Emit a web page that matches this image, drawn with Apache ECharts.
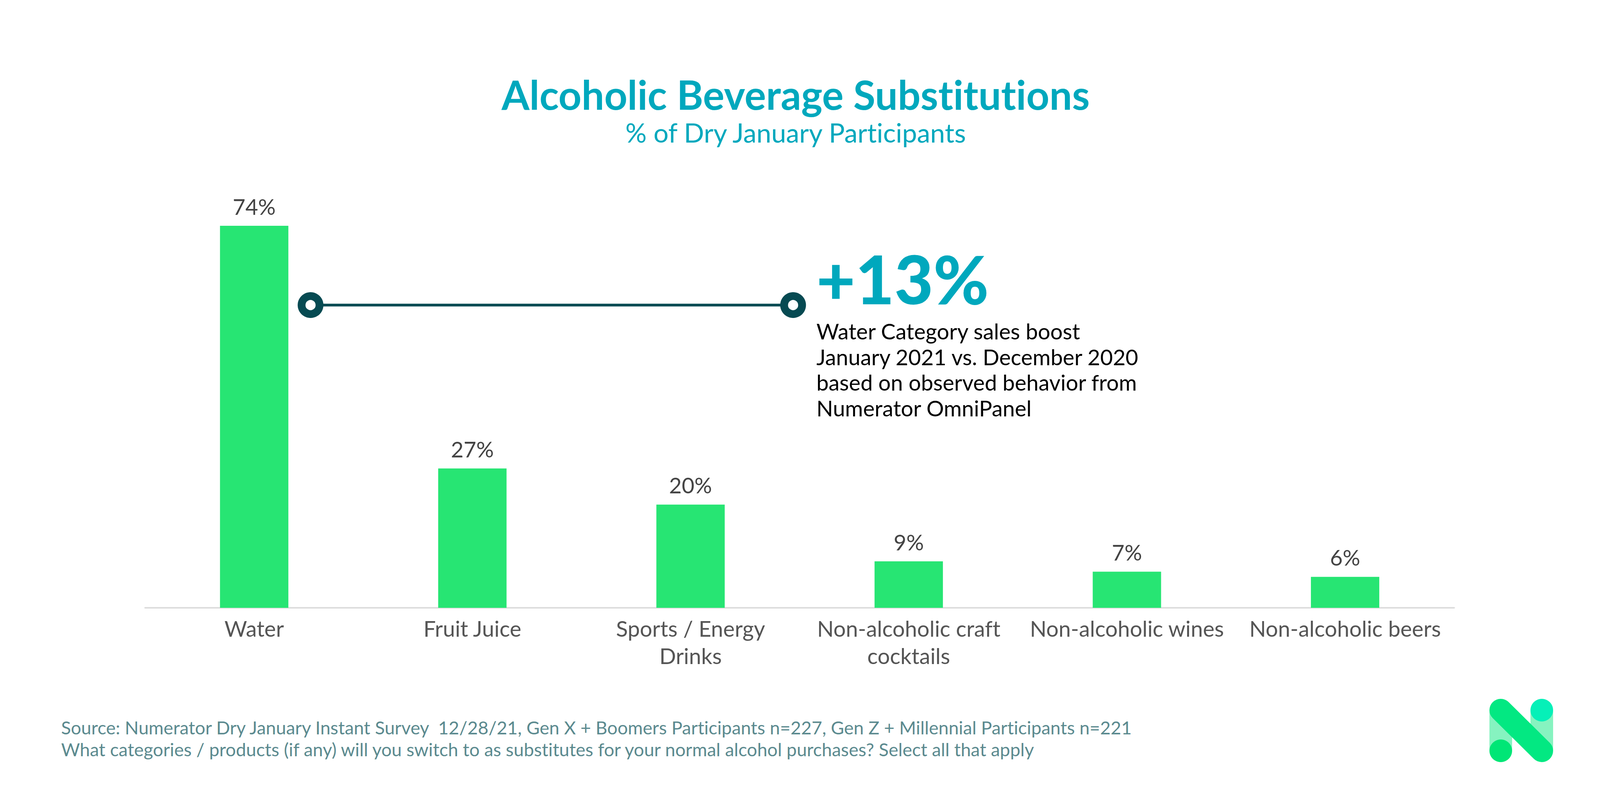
<!DOCTYPE html>
<html>
<head>
<meta charset="utf-8">
<style>
html,body{margin:0;padding:0;background:#fff;overflow:hidden}
#main{width:100vw;height:100vh}
#main text{font-variant-ligatures:none !important}
</style>
<script src="https://cdn.jsdelivr.net/npm/echarts@6/dist/echarts.min.js"></script>
</head>
<body>
<div id="main"></div>
<script>
var categories = ['Water', 'Fruit Juice', 'Sports / Energy\nDrinks', 'Non-alcoholic craft\ncocktails', 'Non-alcoholic wines', 'Non-alcoholic beers'];
var values = [74, 27, 20, 9, 7, 6];
var titleText = 'Alcoholic Beverage Substitutions';
var subtitleText = '% of Dry January Participants';
var calloutValue = '+13%';
var calloutLines = ['Water Category sales boost', 'January 2021 vs. December 2020', 'based on observed behavior from', 'Numerator OmniPanel'];
var sourceLines = ['Source: Numerator Dry January Instant Survey  12/28/21, Gen X + Boomers Participants n=227, Gen Z + Millennial Participants n=221', 'What categories / products (if any) will you switch to as substitutes for your normal alcohol purchases? Select all that apply'];

var font = 'Lato';
var teal = '#00a8bd';
var dark = '#064a52';

var myChart = echarts.init(document.getElementById('main'), null, {renderer: 'svg'});
// the window can come out narrower than the 4400 the reference was measured at
var sx = myChart.getWidth() / 4400;
function X(px) { return px * sx; }
var logoX = X(4183.5);

myChart.setOption({
  animation: false,
  backgroundColor: '#ffffff',
  grid: {left: X(399), top: 578, width: X(3600), height: 978},
  xAxis: {
    type: 'category',
    data: categories,
    axisLine: {lineStyle: {color: '#dddddd', width: 4}},
    axisTick: {show: false},
    axisLabel: {color: '#555555', fontFamily: font, fontSize: 56, lineHeight: 70, margin: 17, interval: 0}
  },
  yAxis: {type: 'value', min: 0, max: 74, show: false, splitLine: {show: false}},
  series: [{
    type: 'bar',
    data: values,
    barWidth: X(188),
    itemStyle: {color: '#27e573'},
    label: {
      show: true,
      position: 'top',
      distance: 22,
      formatter: '{c}%',
      color: '#444444',
      fontFamily: font,
      fontSize: 56
    }
  }],
  graphic: [
    {type: 'text', x: X(2188), y: 241, style: {text: titleText, font: 'bold 103px ' + font, fill: teal, lineHeight: 100, textAlign: 'center', textVerticalAlign: 'middle'}},
    {type: 'text', x: X(2188), y: 338, style: {text: subtitleText, font: '68px ' + font, fill: teal, lineHeight: 70, textAlign: 'center', textVerticalAlign: 'middle'}},
    {type: 'line', shape: {x1: X(854), y1: 781, x2: X(2181), y2: 781}, style: {stroke: dark, lineWidth: 7}},
    {type: 'circle', shape: {cx: X(854), cy: 781, r: 23}, style: {fill: '#ffffff', stroke: dark, lineWidth: 20}},
    {type: 'circle', shape: {cx: X(2181), cy: 781, r: 23}, style: {fill: '#ffffff', stroke: dark, lineWidth: 20}},
    {type: 'text', x: X(2245), y: 712, style: {text: calloutValue, font: '900 172px ' + font, fill: teal, textAlign: 'left', textVerticalAlign: 'middle'}},
    {type: 'text', x: X(2245), y: 815, style: {text: calloutLines.join('\n'), font: '56px ' + font, fill: '#000000', lineHeight: 65.5, textAlign: 'left', textVerticalAlign: 'top'}},
    {type: 'text', x: X(168), y: 1834, style: {text: sourceLines.join('\n'), font: '46.5px ' + font, fill: '#5b8a8f', lineHeight: 56, textAlign: 'left', textVerticalAlign: 'top'}},
    // logo
    {type: 'rect', shape: {x: logoX - 81.5, y: 1818, width: 58, height: 104}, style: {fill: '#86f3c0'}},
    {type: 'rect', shape: {x: logoX + 23.5, y: 1818, width: 58, height: 104}, style: {fill: '#86f3c0'}},
    {type: 'circle', shape: {cx: logoX - 52.5, cy: 1922, r: 29}, style: {fill: '#00e676'}},
    {type: 'circle', shape: {cx: logoX + 52.5, cy: 1818, r: 29}, style: {fill: '#06f0b8'}},
    {type: 'line', shape: {x1: logoX - 52.5, y1: 1818, x2: logoX + 52.5, y2: 1922}, style: {stroke: '#03e882', lineWidth: 58, lineCap: 'round'}}
  ]
});
</script>
</body>
</html>
